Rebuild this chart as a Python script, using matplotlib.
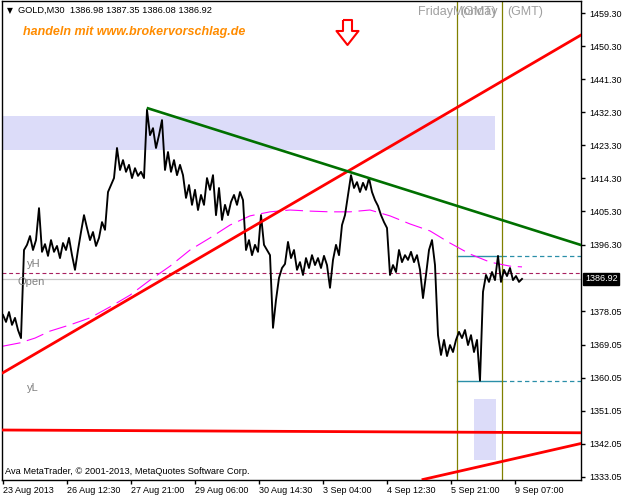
import numpy as np
import matplotlib
matplotlib.use('Agg')
import matplotlib.pyplot as plt
from matplotlib.transforms import blended_transform_factory
from matplotlib.patches import Rectangle
from matplotlib.path import Path

plt.rcParams['font.family'] = ['Liberation Sans', 'DejaVu Sans']

# ---------------- data ----------------
symbol = 'GOLD,M30'
ohlc = [1386.98, 1387.35, 1386.08, 1386.92]
bar_step = 3  # each stored close is 3 bars apart

close = [
    1377.1, 1375.2, 1377.9, 1374.4, 1376.3, 1373.0, 1370.8, 1394.8, 1396.2, 1398.6,
    1394.8, 1397.5, 1406.2, 1394.3, 1396.4, 1393.2, 1397.5, 1394.3, 1395.9, 1392.6,
    1396.7, 1394.8, 1398.1, 1393.4, 1389.4, 1394.8, 1399.7, 1404.3, 1400.8, 1397.5,
    1399.7, 1395.9, 1398.1, 1402.4, 1400.3, 1410.6, 1412.5, 1414.4, 1422.6, 1416.6,
    1419.3, 1416.1, 1418.0, 1414.4, 1417.1, 1415.0, 1416.1, 1414.4, 1433.0, 1426.1,
    1428.0, 1422.6, 1426.1, 1430.2, 1416.6, 1421.5, 1416.1, 1419.3, 1415.2, 1418.0,
    1415.2, 1409.0, 1412.5, 1407.1, 1411.2, 1405.7, 1409.8, 1407.1, 1414.4, 1411.2,
    1415.2, 1404.3, 1411.7, 1403.0, 1407.1, 1404.3, 1407.9, 1409.8, 1407.1, 1410.6,
    1408.4, 1394.8, 1397.5, 1393.4, 1396.2, 1394.3, 1404.3, 1396.2, 1394.8, 1393.4,
    1373.6, 1381.2, 1387.2, 1389.9, 1391.0, 1397.0, 1392.6, 1394.8, 1389.4, 1391.5,
    1388.0, 1392.6, 1389.9, 1393.4, 1390.7, 1392.6, 1389.9, 1393.2, 1390.7, 1384.5,
    1392.1, 1396.2, 1393.4, 1401.6, 1404.3, 1409.8, 1415.2, 1411.7, 1413.3, 1410.6,
    1413.1, 1411.2, 1414.4, 1410.6, 1408.4, 1406.8, 1404.3, 1402.4, 1400.8, 1388.0,
    1390.7, 1388.8, 1394.8, 1391.5, 1393.4, 1392.1, 1394.3, 1391.5, 1393.4, 1389.4,
    1381.7, 1388.0, 1394.8, 1397.5, 1390.7, 1371.6, 1366.2, 1370.3, 1365.9, 1368.9,
    1367.0, 1370.3, 1372.5, 1370.8, 1373.0, 1368.9, 1371.6, 1367.0, 1370.3, 1359.2,
    1383.4, 1388.0, 1386.1, 1388.8, 1386.6, 1393.2, 1386.1, 1389.4, 1387.7, 1389.9,
    1386.6, 1387.7, 1386.1, 1386.92,
]

ma_bars = [0, 17, 32, 47, 67, 87, 107, 127, 147, 167, 187, 207, 227, 247,
           267, 287, 307, 327, 347, 367, 387, 407, 427, 447, 467, 487, 507, 519]
ma_vals = [1368.6, 1369.5, 1370.8, 1372.7, 1374.4, 1376.3, 1379.3, 1382.5, 1386.6,
           1390.4, 1394.8, 1398.1, 1401.6, 1404.1, 1405.2, 1405.7, 1405.4, 1405.2,
           1405.2, 1405.7, 1404.1, 1401.9, 1400.0, 1396.7, 1393.7, 1391.5, 1390.4,
           1390.2]

date_bars = [0, 64, 128, 192, 256, 320, 384, 448, 512]
date_labels = ['23 Aug 2013', '26 Aug 12:30', '27 Aug 21:00', '29 Aug 06:00',
               '30 Aug 14:30', '3 Sep 04:00', '4 Sep 12:30', '5 Sep 21:00',
               '9 Sep 07:00']
price_ticks = [1459.30, 1450.30, 1441.30, 1432.30, 1423.30, 1414.30, 1405.30,
               1396.30, 1378.05, 1369.05, 1360.05, 1351.05, 1342.05, 1333.05]

# trend lines: (bar0, price0, bar1, price1)
up_trend = (0, 1361.37, 578, 1453.38)
down_trend = (145, 1433.41, 578, 1396.16)
flat_line = (-1, 1345.75, 578, 1345.0)
low_trend = (420, 1332.27, 578, 1342.08)

# zones: (bar0, bar1, price_lo, price_hi)
zone_big = (-1, 492, 1422.05, 1431.4)
zone_small = (471, 493, 1337.6, 1354.2)

fri_high = 1393.17
fri_low = 1359.11
prev_high = 1388.45
open_price = 1386.82
sep_bars = [453.7, 498.7]

signal_bar = 344
signal_price = 1454.1

xlim = (-1, 578)
ylim = (1332.13, 1462.65)

# ---------------- figure ----------------
W, H = 624, 497
fig = plt.figure(figsize=(W / 100, H / 100), dpi=100)
fig.patch.set_facecolor('white')
ax = fig.add_axes([2 / W, (H - 480) / H, 579 / W, 479 / H])
ax.set_xlim(*xlim)
ax.set_ylim(*ylim)
ax.set_facecolor('white')
for s in ax.spines.values():
    s.set_color('black')
    s.set_linewidth(1.0)

zone_col = '#DCDCF9'
ax.add_patch(Rectangle((zone_big[0], zone_big[2]), zone_big[1] - zone_big[0],
                       zone_big[3] - zone_big[2], facecolor=zone_col,
                       edgecolor='none', zorder=0.5))
ax.add_patch(Rectangle((zone_small[0], zone_small[2]), zone_small[1] - zone_small[0],
                       zone_small[3] - zone_small[2], facecolor=zone_col,
                       edgecolor='none', zorder=0.5))

# horizontal level lines
ax.axhline(open_price, color='#C8C8C8', lw=0.9, zorder=1)
ax.axhline(prev_high, color='#A8205F', lw=0.8, dashes=(3.5, 2.5), zorder=1)
teal = '#2A8FA8'
for lvl in (fri_high, fri_low):
    ax.plot([sep_bars[0], sep_bars[1]], [lvl, lvl], color=teal, lw=1.0, zorder=1.5)
    ax.plot([sep_bars[1], xlim[1]], [lvl, lvl], color=teal, lw=0.9,
            dashes=(3.5, 2.5), zorder=1.5)

# session separators
for b in sep_bars:
    ax.axvline(b, color='#808000', lw=0.9, zorder=1.5)

# moving average
ax.plot(ma_bars, ma_vals, color='#FF00FF', lw=0.8, dashes=(16, 6), zorder=2)

# price line
xs = np.arange(len(close)) * bar_step
ax.plot(xs, close, color='black', lw=1.35, zorder=3)

# trend lines
ax.plot(flat_line[0::2], flat_line[1::2], color='#FF0000', lw=2.0, zorder=4)
ax.plot(low_trend[0::2], low_trend[1::2], color='#FF0000', lw=2.0, zorder=4)
ax.plot(up_trend[0::2], up_trend[1::2], color='#FF0000', lw=2.0, zorder=4)
ax.plot(down_trend[0::2], down_trend[1::2], color='#007000', lw=1.9, zorder=4)

# down arrow signal (hollow arrow marker)
arrow_path = Path([(-4.5, 12.5), (4.5, 12.5), (4.5, 1.5), (11, 1.5), (0, -12.5),
                   (-11, 1.5), (-4.5, 1.5), (-4.5, 12.5)])
ax.plot([signal_bar], [signal_price], marker=arrow_path, markersize=18,
        markerfacecolor='white', markeredgecolor='#FF0000', markeredgewidth=1.5,
        linestyle='none', zorder=6)

# axes ticks
ax.yaxis.tick_right()
ax.set_yticks(price_ticks)
ax.set_yticklabels([f'{v:.2f}' for v in price_ticks])
ax.set_xticks(date_bars)
ax.set_xticklabels(date_labels)
ax.tick_params(axis='both', direction='out', length=3, width=1, labelsize=6.5,
               colors='black')
ax.tick_params(axis='y', pad=3)
ax.tick_params(axis='x', pad=1.5)
for lab in ax.get_xticklabels():
    lab.set_horizontalalignment('left')

# current price box
bt = blended_transform_factory(ax.transAxes, ax.transData)
ax.text(1.0 + 4 / 579, ohlc[3], f'{ohlc[3]:.2f}', transform=bt, ha='left',
        va='center', color='white', fontsize=6.5, zorder=10, clip_on=False,
        bbox=dict(facecolor='black', edgecolor='black', boxstyle='square,pad=0.2'))

# level labels
gray = '#808080'
ax.text(24, 1391.0, 'yH', color=gray, fontsize=8, ha='left', va='center')
ax.text(14, 1386.1, 'Open', color=gray, fontsize=8, ha='left', va='center')
ax.text(24, 1357.2, 'yL', color=gray, fontsize=8, ha='left', va='center')

# separator labels (overlapping exactly as in the terminal)
tb = blended_transform_factory(ax.transData, ax.transAxes)
sg = '#A0A0A0'
ax.text(sep_bars[0] - 3.5, 0.977, 'Friday', transform=tb, color=sg, fontsize=9,
        ha='right', va='center')
ax.text(sep_bars[0] + 3.5, 0.977, '(GMT)', transform=tb, color=sg, fontsize=9,
        ha='left', va='center')
ax.text(sep_bars[1] - 4.5, 0.977, 'Monday', transform=tb, color=sg, fontsize=9,
        ha='right', va='center')
ax.text(sep_bars[1] + 6, 0.977, '(GMT)', transform=tb, color=sg, fontsize=9,
        ha='left', va='center')

# header texts
fig.text(10 / W, 1 - 10.5 / H, '\u25bc', fontsize=5.5, ha='center', va='center',
         family=['DejaVu Sans'])
fig.text(18 / W, 1 - 10.5 / H, f'{symbol}  ' + ' '.join(f'{v:.2f}' for v in ohlc),
         fontsize=6.7, ha='left', va='center', color='black')
fig.text(23 / W, 1 - 32 / H, 'handeln mit www.brokervorschlag.de', fontsize=9,
         fontweight='bold', fontstyle='italic', color='#FF8C00', ha='left',
         va='center')
fig.text(5 / W, 1 - 471 / H, 'Ava MetaTrader, \u00a9 2001-2013, MetaQuotes Software Corp.',
         fontsize=6.7, ha='left', va='center', color='black')

fig.savefig('out.png', dpi=100, facecolor='white')
